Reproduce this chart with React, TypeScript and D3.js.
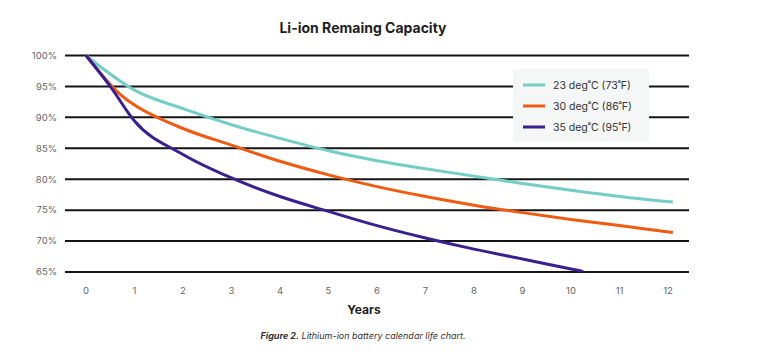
import React from "react";
import * as d3 from "d3";

const years = [0, 1, 2, 3, 4, 5, 6, 7, 8, 9, 10, 11, 12];
const yTicks = [65, 70, 75, 80, 85, 90, 95, 100];

const teal = [
  [0, 100], [1, 94.4], [2, 91.4], [3, 88.8], [4, 86.6], [5, 84.6], [6, 83.0],
  [7, 81.7], [8, 80.5], [9, 79.3], [10, 78.2], [11, 77.2], [12.1, 76.3],
];
const orange = [
  [0, 100], [0.85, 92.8], [1, 92.0], [2, 88.2], [3, 85.5], [4, 82.9], [5, 80.7],
  [6, 78.8], [7, 77.2], [8, 75.8], [9, 74.6], [10, 73.5], [11, 72.5], [12.1, 71.4],
];
const purple = [
  [0, 100], [0.5, 95.0], [1, 89.4], [2, 84.0], [3, 80.2], [4, 77.2], [5, 74.8],
  [6, 72.5], [7, 70.5], [8, 68.7], [9, 67.1], [10, 65.5], [10.25, 65.1],
];

const seriesNames = ["23 deg˚C (73˚F)", "30 deg˚C (86˚F)", "35 deg˚C (95˚F)"];
const seriesColors = ["#72cec6", "#f05a12", "#3a1f8f"];
const seriesData = [teal, orange, purple];

export default function App() {
  const W = 757, H = 353;
  const x = d3.scaleLinear().domain([0, 12]).range([86, 668]);
  const y = d3.scaleLinear().domain([65, 100]).range([272, 55.5]);
  const line = d3
    .line<number[]>()
    .x((d) => x(d[0]))
    .y((d) => y(d[1]))
    .curve(d3.curveMonotoneX);
  const font = "Inter, 'Noto Sans', sans-serif";

  return (
    <svg width={W} height={H} style={{ position: "absolute", left: 0, top: 0, background: "#fff" }} fontFamily={font}>
      <text x={363} y={33} textAnchor="middle" fontSize={14} fontWeight={700} fill="#1e1e1e">
        Li-ion Remaing Capacity
      </text>
      {yTicks.map((t) => (
        <g key={t}>
          <line x1={65} x2={689} y1={y(t)} y2={y(t)} stroke="#141414" strokeWidth={2} />
          <text x={57} y={y(t) + 3.3} textAnchor="end" fontSize={9.5} fill="#666">
            {t}%
          </text>
        </g>
      ))}
      {years.map((t) => (
        <text key={t} x={x(t)} y={294} textAnchor="middle" fontSize={9.5} fill="#666">
          {t}
        </text>
      ))}
      {seriesData.map((s, i) => (
        <path key={i} d={line(s) || ""} fill="none" stroke={seriesColors[i]} strokeWidth={3} />
      ))}
      <rect x={513} y={69} width={136} height={73} fill="#f5f7f6" />
      {seriesNames.map((n, i) => (
        <g key={n}>
          <line x1={523} x2={545} y1={85 + i * 21} y2={85 + i * 21} stroke={seriesColors[i]} strokeWidth={3} />
          <text x={553} y={88.7 + i * 21} fontSize={10.5} fill="#333">
            {n}
          </text>
        </g>
      ))}
      <text x={364} y={314} textAnchor="middle" fontSize={12} fontWeight={700} fill="#1e1e1e">
        Years
      </text>
      <text x={363} y={339} textAnchor="middle" fontSize={9} fontStyle="italic" fill="#333">
        <tspan fontWeight={700}>Figure 2.</tspan> Lithium-ion battery calendar life chart.
      </text>
    </svg>
  );
}
